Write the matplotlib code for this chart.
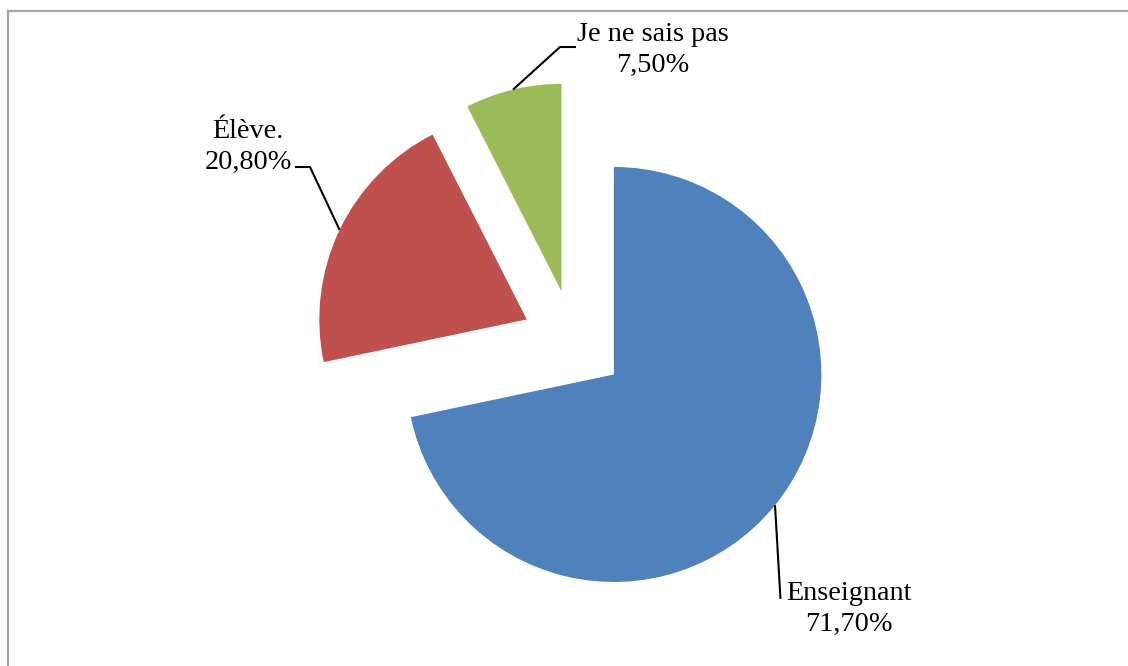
import matplotlib
matplotlib.use('Agg')
import matplotlib.pyplot as plt
import numpy as np
from matplotlib.lines import Line2D

# Data
categories = ['Enseignant', 'Élève.', 'Je ne sais pas']
values = [71.7, 20.8, 7.5]
pct_labels = ['71,70%', '20,80%', '7,50%']
colors = ['#4F81BD', '#C0504D', '#9BBB59']

# Layout (pixels)
W, H = 1128, 666
R_PX = 207.5
CX, CY = 573.6, 341.8
EXPLODE = 0.25

fig = plt.figure(figsize=(W / 100, H / 100), dpi=100)
ax = fig.add_axes([0, 0, 1, 1])
wedges, _ = ax.pie(values, colors=colors, startangle=90, counterclock=False,
                   explode=[EXPLODE] * len(values), radius=1,
                   wedgeprops=dict(linewidth=0))
ax.set_aspect('auto')
ax.set_xlim(-CX / R_PX, (W - CX) / R_PX)
ax.set_ylim(-(H - CY) / R_PX, CY / R_PX)
ax.axis('off')


def px2d(px, py):
    return ((px - CX) / R_PX, (CY - py) / R_PX)


# label layouts: text center (px), leader path points after arc point (px)
label_layout = [
    dict(text=(849, 609), path=[(780.5, 599)]),
    dict(text=(248, 147), path=[(310, 167), (295, 167)]),
    dict(text=(653, 50), path=[(560, 47), (576, 47)]),
]

font = dict(family=['Liberation Serif', 'DejaVu Serif'], size=20.3)
for w, cat, pct, lay in zip(wedges, categories, pct_labels, label_layout):
    mid = np.deg2rad((w.theta1 + w.theta2) / 2)
    x0 = w.center[0] + w.r * np.cos(mid)
    y0 = w.center[1] + w.r * np.sin(mid)
    pts = [(x0, y0)] + [px2d(*p) for p in lay['path']]
    xs, ys = zip(*pts)
    ax.plot(xs, ys, color='black', lw=1.5, solid_capstyle='butt')
    tx, ty = px2d(*lay['text'])
    ax.text(tx, ty, f'{cat}\n{pct}', ha='center', va='center',
            multialignment='center', linespacing=1.3, color='black', **font)

# chart border (gray, top & left visible)
fig.add_artist(Line2D([8 / W, 1], [1 - 11 / H, 1 - 11 / H],
                      transform=fig.transFigure, color='#A6A6A6', lw=1.6))
fig.add_artist(Line2D([8 / W, 8 / W], [0, 1 - 11 / H],
                      transform=fig.transFigure, color='#A6A6A6', lw=1.6))

fig.savefig('out.png', dpi=100)
